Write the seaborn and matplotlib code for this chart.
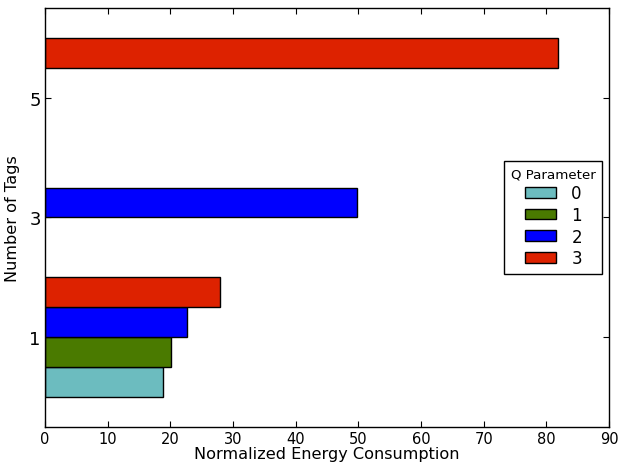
import matplotlib
matplotlib.use("Agg")
import matplotlib.pyplot as plt
import seaborn as sns
import pandas as pd

# Measurements: number of tags, Q parameter and normalized energy
tags = [1, 1, 1, 1, 3, 5]
q_param = ["0", "1", "2", "3", "2", "3"]
energy = [18.75, 20.05, 22.65, 27.9, 49.8, 81.85]

q_levels = ["0", "1", "2", "3"]
q_colors = ["#6cbcbf", "#4a7a00", "#0000ff", "#dd2200"]
x_ticks = [0, 10, 20, 30, 40, 50, 60, 70, 80, 90]
y_ticks = [1, 3, 5]

df = pd.DataFrame({"Number of Tags": tags, "Q Parameter": q_param,
                   "Normalized Energy Consumption": energy})

sns.set_style("ticks")
plt.rcParams["font.family"] = ["DejaVu Sans"]
plt.rcParams["text.color"] = "black"
plt.rcParams["axes.labelcolor"] = "black"

fig = plt.figure(figsize=(6.26, 4.64), dpi=100)
ax = fig.add_axes([0.0719, 0.0776, 0.9011, 0.9030])

sns.barplot(data=df, x="Normalized Energy Consumption", y="Number of Tags",
            hue="Q Parameter", hue_order=q_levels, palette=q_colors,
            orient="h", native_scale=True, width=1.0, errorbar=None,
            saturation=1, edgecolor="black", linewidth=1, ax=ax)

ax.set_xlim(0, 90)
ax.set_ylim(-0.5, 6.5)
ax.set_xticks(x_ticks)
ax.set_yticks(y_ticks)
ax.set_xlabel("Normalized Energy Consumption", fontsize=11.6, labelpad=0)
ax.set_ylabel("Number of Tags", fontsize=11.6, labelpad=7)
ax.tick_params(axis="x", direction="in", top=True, bottom=True,
               labelsize=10.5, length=4, width=0.8, pad=3, colors="black")
ax.tick_params(axis="y", direction="in", left=True, right=True,
               labelsize=13, length=4, width=0.8, pad=3, colors="black")
for side in ["left", "right", "top", "bottom"]:
    ax.spines[side].set_visible(True)
    ax.spines[side].set_color("black")
    ax.spines[side].set_linewidth(1)

leg = ax.legend(title="Q Parameter", loc="center right", fontsize=12,
                title_fontsize=9.6, frameon=True, fancybox=False,
                handlelength=1.9, handleheight=0.6, borderaxespad=0.4,
                labelspacing=0.22, borderpad=0.4, handletextpad=0.9)
leg.get_frame().set_edgecolor("black")
leg.get_frame().set_linewidth(1)
leg.get_frame().set_alpha(1)

fig.savefig("out.png", dpi=100)
